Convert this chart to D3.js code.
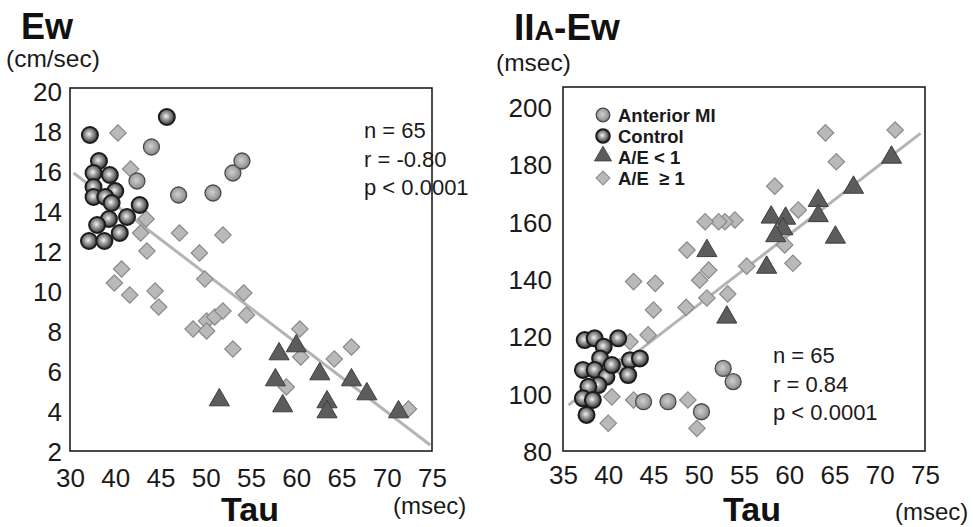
<!DOCTYPE html>
<html>
<head>
<meta charset="utf-8">
<script src="https://cdn.jsdelivr.net/npm/d3@7"></script>
<style>
  body { margin: 0; background: #fff; }
  svg { display: block; font-family: "Liberation Sans", Arial, sans-serif; }
</style>
</head>
<body>
<svg id="chart" width="973" height="527"></svg>
<script>
// ---- left panel: Ew vs Tau ----
const ewAmi = [[44.0,17.2],[42.4,15.5],[47.0,14.8],[50.8,14.9],[53.0,15.9],[54.0,16.5]];
const ewControl = [[37.2,17.8],[45.7,18.7],[38.2,16.5],[37.6,15.9],[39.4,15.8],[37.6,15.2],
  [40.0,15.0],[37.6,14.7],[38.9,14.7],[39.6,14.4],[42.7,14.3],[41.3,13.7],[39.3,13.6],
  [38.0,13.3],[40.5,12.9],[37.1,12.5],[38.8,12.5]];
const ewTriangle = [[51.5,4.5],[58.1,6.8],[60.0,7.2],[57.7,5.5],[58.5,4.2],[62.6,5.8],
  [63.4,4.4],[63.4,3.9],[66.1,5.5],[67.8,4.8],[71.3,3.9]];
const ewDiamond = [[40.3,17.9],[41.7,16.1],[43.4,13.6],[42.8,12.9],[47.1,12.9],[51.9,12.8],
  [43.5,12.0],[49.3,11.9],[40.7,11.1],[39.9,10.4],[41.6,9.8],[44.4,10.0],[44.8,9.2],
  [49.9,10.6],[54.2,9.9],[54.5,8.8],[48.6,8.1],[50.1,8.5],[50.1,8.0],[51.0,8.7],[51.9,9.0],
  [53.0,7.1],[60.4,8.1],[60.5,6.7],[58.9,5.2],[64.2,6.6],[66.1,7.2],[72.4,4.1]];
const ewFit = [[35.4,15.9],[74.8,2.3]];
const ewYTicks = [2,4,6,8,10,12,14,16,18,20];
const ewXTicks = [35,40,45,50,55,60,65,70,75];
const ewXLabels = ["30","40","45","50","55","60","65","70","75"];
const ewStats = ["n = 65","r = -0.80","p < 0.0001"];

// ---- right panel: IIA-Ew vs Tau ----
const iiAmi = [[52.7,108.8],[53.8,104.2],[43.9,97.2],[46.6,97.2],[50.3,93.7]];
const iiControl = [[37.4,118.7],[38.5,119.3],[39.5,116.4],[41.1,119.3],[39.1,112.3],
  [37.2,108.3],[38.5,108.3],[39.8,105.9],[38.9,103.0],[37.8,102.4],[37.2,98.4],
  [38.3,97.8],[37.6,92.6],[42.4,111.7],[43.5,112.3],[42.2,106.5],[40.4,110.0]];
const iiTriangle = [[50.9,149.5],[57.5,143.7],[53.1,126.3],[71.3,182.1],[67.1,171.6],
  [63.2,167.0],[63.2,161.7],[58.0,161.2],[59.6,160.8],[59.3,157.1],[58.5,154.7],[65.1,154.2]];
const iiDiamond = [[64.0,191.0],[71.7,192.0],[65.2,180.9],[58.4,172.4],[61.0,164.1],
  [54.0,160.6],[52.9,160.0],[52.2,160.0],[50.7,160.0],[59.5,151.9],[60.4,145.5],
  [55.3,144.5],[51.1,143.1],[53.2,134.8],[50.9,133.4],[50.1,139.6],[48.7,150.1],
  [48.6,130.1],[42.8,139.1],[45.2,138.5],[45.0,129.2],[44.4,120.5],[42.4,118.1],
  [41.3,109.4],[40.4,98.9],[42.8,97.8],[48.8,97.8],[40.0,89.7],[49.8,87.9]];
const iiFit = [[35.6,96.0],[74.5,190.8]];
const iiYTicks = [80,100,120,140,160,180,200];
const iiXTicks = [35,40,45,50,55,60,65,70,75];
const iiXLabels = ["35","40","45","50","55","60","65","70","75"];
const iiStats = ["n = 65","r = 0.84","p < 0.0001"];

const legendLabels = ["Anterior MI","Control","A/E < 1","A/E  \u2265 1"];

const svg = d3.select("#chart");

// gradients for the shaded balls
const defs = svg.append("defs");
function ball(id, stops) {
  const g = defs.append("radialGradient").attr("id", id)
    .attr("cx", "45%").attr("cy", "45%").attr("r", "60%");
  stops.forEach(s => g.append("stop").attr("offset", s[0]).attr("stop-color", s[1]));
}
ball("gCtrl", [["0%","#f4f4f4"],["35%","#a4a4a4"],["75%","#555"],["100%","#2e2e2e"]]);
ball("gAmi", [["0%","#cfcfcf"],["60%","#a2a2a2"],["100%","#7e7e7e"]]);

const triPath = d3.symbol().type(d3.symbolTriangle).size(175)();
const diaPath = d3.symbol().type(d3.symbolSquare).size(135)();

function drawMarks(g, x, y, data, kind, scale) {
  const s = scale || 1;
  const sel = g.append("g").selectAll("path").data(data).enter();
  if (kind === "tri") {
    sel.append("path").attr("d", triPath)
      .attr("transform", d => `translate(${x(d[0])},${y(d[1]) - 1}) scale(${s})`)
      .attr("fill", "#5c5c5c").attr("stroke", "#3e3e3e").attr("stroke-width", 1);
  } else if (kind === "dia") {
    sel.append("path").attr("d", diaPath)
      .attr("transform", d => `translate(${x(d[0])},${y(d[1])}) rotate(45) scale(${s})`)
      .attr("fill", "#b9b9b9").attr("stroke", "#8a8a8a").attr("stroke-width", 1.2);
  } else if (kind === "ami") {
    sel.append("circle").attr("cx", d => x(d[0])).attr("cy", d => y(d[1])).attr("r", 8 * s)
      .attr("fill", "url(#gAmi)").attr("stroke", "#4a4a4a").attr("stroke-width", 1.3);
  } else {
    sel.append("circle").attr("cx", d => x(d[0])).attr("cy", d => y(d[1])).attr("r", 8 * s)
      .attr("fill", "url(#gCtrl)").attr("stroke", "#1c1c1c").attr("stroke-width", 2);
  }
}

function drawPanel(p) {
  const x = d3.scaleLinear().domain(p.xDomain).range([p.left, p.right]);
  const y = d3.scaleLinear().domain(p.yDomain).range([p.bottom, p.top]);
  const g = svg.append("g");

  // regression line underneath
  g.append("path").datum(p.fit)
    .attr("d", d3.line().x(d => x(d[0])).y(d => y(d[1])))
    .attr("stroke", "#b4b4b4").attr("stroke-width", 3).attr("fill", "none");

  drawMarks(g, x, y, p.diamond, "dia");
  drawMarks(g, x, y, p.triangle, "tri");
  drawMarks(g, x, y, p.ami, "ami");
  drawMarks(g, x, y, p.control, "ctrl");

  // frame
  g.append("rect").attr("x", p.left).attr("y", p.top)
    .attr("width", p.right - p.left).attr("height", p.bottom - p.top)
    .attr("fill", "none").attr("stroke", "#1e1e1e").attr("stroke-width", 1.6);

  // axes (labels only, no tick marks)
  const ya = g.append("g").attr("transform", `translate(${p.left - p.yPad},0)`)
    .call(d3.axisLeft(y).tickValues(p.yTicks).tickSize(0).tickPadding(0));
  const xa = g.append("g").attr("transform", `translate(0,${p.bottom + p.xPad})`)
    .call(d3.axisBottom(x).tickValues(p.xTicks).tickSize(0).tickPadding(0)
      .tickFormat((d, i) => p.xLabels[i]));
  [ya, xa].forEach(a => {
    a.select(".domain").remove();
    a.selectAll("text").attr("font-size", 26).attr("fill", "#1a1a1a")
      .attr("font-family", "'Liberation Sans', Arial, sans-serif");
  });
  ya.selectAll("text").attr("dy", "0.36em");
  xa.selectAll("text").attr("dy", "0.72em");

  // stats
  g.append("g").selectAll("text").data(p.stats).enter().append("text")
    .attr("x", p.statX).attr("y", (d, i) => p.statY + i * 28.5)
    .attr("font-size", 22).attr("fill", "#1a1a1a").text(d => d);

  // x title
  g.append("text").attr("x", p.tauX).attr("y", 521).attr("text-anchor", "middle")
    .attr("font-size", 34).attr("font-weight", "bold").attr("fill", "#111").text("Tau");
  g.append("text").attr("x", p.msecX).attr("y", p.msecY)
    .attr("font-size", 24).attr("fill", "#1a1a1a").text("(msec)");
  return { x, y, g };
}

drawPanel({
  left: 70, right: 432, top: 88, bottom: 451,
  xDomain: [35, 75], yDomain: [2, 20.15],
  ami: ewAmi, control: ewControl, triangle: ewTriangle, diamond: ewDiamond, fit: ewFit,
  yTicks: ewYTicks, xTicks: ewXTicks, xLabels: ewXLabels, yPad: 8, xPad: 17,
  stats: ewStats, statX: 364, statY: 138,
  tauX: 250, msecX: 393, msecY: 514
});

drawPanel({
  left: 563, right: 925, top: 87, bottom: 451,
  xDomain: [35, 75], yDomain: [80, 207],
  ami: iiAmi, control: iiControl, triangle: iiTriangle, diamond: iiDiamond, fit: iiFit,
  yTicks: iiYTicks, xTicks: iiXTicks, xLabels: iiXLabels, yPad: 11, xPad: 14,
  stats: iiStats, statX: 773, statY: 363,
  tauX: 752, msecX: 895, msecY: 520
});

// titles
svg.append("text").attr("x", 21).attr("y", 39).attr("font-size", 36)
  .attr("font-weight", "bold").attr("fill", "#111").text("Ew");
svg.append("text").attr("x", 6).attr("y", 67).attr("font-size", 24.5)
  .attr("fill", "#1a1a1a").text("(cm/sec)");

const t2 = svg.append("text").attr("x", 514).attr("y", 40)
  .attr("font-weight", "bold").attr("fill", "#111").attr("font-size", 37);
t2.append("tspan").text("II");
t2.append("tspan").attr("font-size", 27).text("A");
t2.append("tspan").text("-Ew");
svg.append("text").attr("x", 496).attr("y", 71).attr("font-size", 24.5)
  .attr("fill", "#1a1a1a").text("(msec)");

// legend
const lg = svg.append("g");
const legKinds = ["ami", "ctrl", "tri", "dia"];
const legY = d3.scaleLinear().domain([0, 3]).range([115, 178]);
legKinds.forEach((k, i) => {
  drawMarks(lg, () => 603, () => legY(i), [[0, 0]], k, 0.85);
});
lg.append("g").selectAll("text").data(legendLabels).enter().append("text")
  .attr("x", 618).attr("y", (d, i) => legY(i) + 6.5)
  .attr("font-size", 18.5).attr("font-weight", "bold").attr("fill", "#1a1a1a")
  .attr("xml:space", "preserve").style("white-space", "pre").text(d => d);
</script>
</body>
</html>
